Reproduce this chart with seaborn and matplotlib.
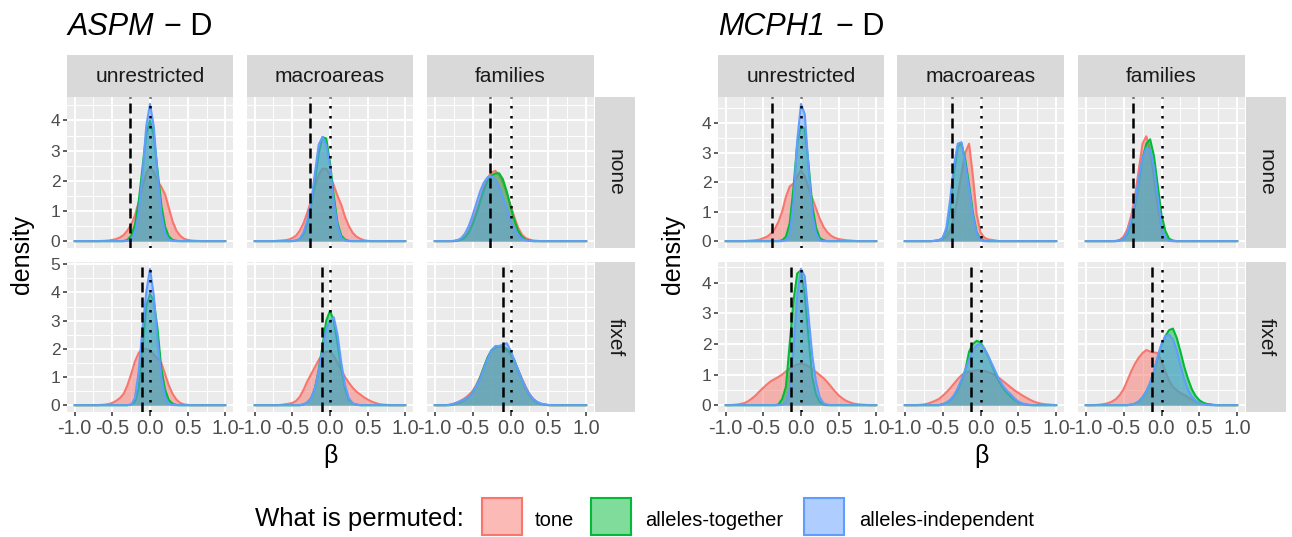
import numpy as np
import pandas as pd
import matplotlib
matplotlib.use("Agg")
import matplotlib.pyplot as plt
import seaborn as sns
from matplotlib.patches import Rectangle
from matplotlib.colors import to_rgba
from matplotlib.ticker import FixedLocator, FuncFormatter

# ---------------------------------------------------------------- data
BETA = np.round(np.linspace(-1.0, 1.0, 41), 2)          # density evaluation grid
PERMUTED = ["tone", "alleles-together", "alleles-independent"]
RESTRICTIONS = ["unrestricted", "macroareas", "families"]
CONTROLS = ["none", "fixef"]
X_TICKS = [-1.0, -0.5, 0.0, 0.5, 1.0]
X_TICK_LABELS = ["-1.0", "-0.5", "0.0", "0.5", "1.0"]
OBSERVED_ASPM = [-0.27, -0.10]      # dashed line, rows none / fixef
OBSERVED_MCPH1 = [-0.38, -0.13]

# ASPM, control = none
ASPM_NONE_UNR_TONE = [0, 0, 0, 0, 0, 0, 0, 0.005, 0.01, 0.02, 0.04, 0.07, 0.12, 0.2, 0.35, 0.55,
                      0.85, 1.3, 1.8, 2.25, 2.45, 2.3, 2.0, 1.8, 1.55, 1.1, 0.65, 0.35, 0.18, 0.08, 0.04, 0.02,
                      0.01, 0.005, 0, 0, 0, 0, 0, 0, 0]
ASPM_NONE_UNR_TOG = [0, 0, 0, 0, 0, 0, 0, 0, 0, 0, 0, 0, 0, 0, 0.04, 0.18,
                     0.54, 1.3, 2.43, 3.53, 4.0, 3.5, 2.35, 1.2, 0.48, 0.15, 0.04, 0.01, 0, 0, 0, 0,
                     0, 0, 0, 0, 0, 0, 0, 0, 0]
ASPM_NONE_UNR_IND = [0, 0, 0, 0, 0, 0, 0, 0, 0, 0, 0, 0, 0, 0, 0.01, 0.05,
                     0.25, 0.95, 2.2, 3.8, 4.55, 3.8, 2.2, 0.9, 0.25, 0.05, 0.01, 0, 0, 0, 0, 0,
                     0, 0, 0, 0, 0, 0, 0, 0, 0]
ASPM_NONE_MAC_TONE = [0, 0, 0, 0, 0, 0, 0.01, 0.02, 0.03, 0.05, 0.1, 0.18, 0.35, 0.6, 0.95, 1.35,
                      1.8, 2.2, 2.4, 2.4, 2.2, 1.85, 1.5, 1.2, 0.8, 0.5, 0.28, 0.15, 0.08, 0.03, 0.01, 0,
                      0, 0, 0, 0, 0, 0, 0, 0, 0]
ASPM_NONE_MAC_TOG = [0, 0, 0, 0, 0, 0, 0, 0, 0, 0, 0, 0.02, 0.07, 0.25, 0.6, 1.2,
                     2.0, 2.9, 3.45, 3.4, 2.6, 1.5, 0.6, 0.18, 0.05, 0.01, 0, 0, 0, 0, 0, 0,
                     0, 0, 0, 0, 0, 0, 0, 0, 0]
ASPM_NONE_MAC_IND = [0, 0, 0, 0, 0, 0, 0, 0, 0, 0, 0, 0.02, 0.08, 0.3, 0.7, 1.3,
                     2.25, 3.2, 3.45, 3.2, 2.5, 1.3, 0.5, 0.1, 0.02, 0, 0, 0, 0, 0, 0, 0,
                     0, 0, 0, 0, 0, 0, 0, 0, 0]
ASPM_NONE_FAM_TONE = [0, 0, 0, 0, 0, 0, 0.02, 0.06, 0.15, 0.35, 0.65, 1.0, 1.4, 1.8, 2.1, 2.28,
                      2.33, 2.2, 1.95, 1.6, 1.2, 0.8, 0.45, 0.22, 0.1, 0.05, 0.02, 0.01, 0, 0, 0, 0,
                      0, 0, 0, 0, 0, 0, 0, 0, 0]
ASPM_NONE_FAM_TOG = [0, 0, 0, 0, 0, 0, 0.02, 0.05, 0.12, 0.28, 0.55, 0.9, 1.3, 1.7, 2.0, 2.18,
                     2.24, 2.25, 2.05, 1.65, 1.15, 0.7, 0.35, 0.14, 0.05, 0.02, 0, 0, 0, 0, 0, 0,
                     0, 0, 0, 0, 0, 0, 0, 0, 0]
ASPM_NONE_FAM_IND = [0, 0, 0, 0, 0, 0.01, 0.03, 0.1, 0.25, 0.5, 0.85, 1.25, 1.65, 1.95, 2.12, 2.15,
                     2.05, 1.8, 1.45, 1.1, 0.7, 0.4, 0.2, 0.08, 0.03, 0.01, 0, 0, 0, 0, 0, 0,
                     0, 0, 0, 0, 0, 0, 0, 0, 0]
# ASPM, control = fixef
ASPM_FIX_UNR_TONE = [0, 0, 0, 0, 0, 0, 0, 0.01, 0.02, 0.04, 0.08, 0.15, 0.25, 0.4, 0.7, 1.1,
                     1.55, 1.85, 2.0, 2.0, 1.95, 1.8, 1.65, 1.5, 1.1, 0.7, 0.4, 0.2, 0.08, 0.03, 0.01, 0,
                     0, 0, 0, 0, 0, 0, 0, 0, 0]
ASPM_FIX_UNR_TOG = [0, 0, 0, 0, 0, 0, 0, 0, 0, 0, 0, 0, 0, 0, 0, 0.02,
                    0.12, 0.6, 2.0, 3.5, 3.95, 3.7, 2.7, 1.3, 0.55, 0.18, 0.05, 0.01, 0, 0, 0, 0,
                    0, 0, 0, 0, 0, 0, 0, 0, 0]
ASPM_FIX_UNR_IND = [0, 0, 0, 0, 0, 0, 0, 0, 0, 0, 0, 0, 0, 0, 0, 0.02,
                    0.25, 1.2, 2.7, 4.0, 4.84, 3.9, 2.3, 1.0, 0.3, 0.05, 0.01, 0, 0, 0, 0, 0,
                    0, 0, 0, 0, 0, 0, 0, 0, 0]
ASPM_FIX_MAC_TONE = [0, 0, 0, 0, 0, 0, 0, 0.01, 0.03, 0.05, 0.08, 0.15, 0.3, 0.55, 0.85, 1.1,
                     1.35, 1.6, 1.8, 1.9, 1.9, 1.75, 1.5, 1.25, 1.0, 0.8, 0.62, 0.48, 0.38, 0.28, 0.2, 0.13,
                     0.08, 0.04, 0.02, 0.01, 0, 0, 0, 0, 0]
ASPM_FIX_MAC_TOG = [0, 0, 0, 0, 0, 0, 0, 0, 0, 0, 0, 0, 0, 0.03, 0.1, 0.25,
                    0.6, 1.25, 2.1, 3.0, 3.35, 3.0, 2.2, 1.3, 0.6, 0.2, 0.06, 0.02, 0, 0, 0, 0,
                    0, 0, 0, 0, 0, 0, 0, 0, 0]
ASPM_FIX_MAC_IND = [0, 0, 0, 0, 0, 0, 0, 0, 0, 0, 0, 0, 0, 0.03, 0.1, 0.25,
                    0.6, 1.2, 2.0, 2.7, 3.0, 3.12, 2.5, 1.5, 0.7, 0.25, 0.07, 0.02, 0, 0, 0, 0,
                    0, 0, 0, 0, 0, 0, 0, 0, 0]
ASPM_FIX_FAM_TONE = [0, 0, 0, 0, 0.02, 0.05, 0.1, 0.17, 0.25, 0.36, 0.5, 0.72, 1.0, 1.35, 1.7, 1.95,
                     2.05, 2.08, 2.05, 1.95, 1.8, 1.55, 1.25, 0.95, 0.65, 0.4, 0.22, 0.1, 0.04, 0.02, 0, 0,
                     0, 0, 0, 0, 0, 0, 0, 0, 0]
ASPM_FIX_FAM_TOG = [0, 0, 0, 0, 0, 0.03, 0.07, 0.12, 0.2, 0.3, 0.45, 0.68, 0.98, 1.35, 1.7, 1.95,
                    2.05, 2.1, 2.08, 2.0, 1.85, 1.6, 1.25, 0.9, 0.6, 0.36, 0.2, 0.1, 0.05, 0.02, 0, 0,
                    0, 0, 0, 0, 0, 0, 0, 0, 0]
ASPM_FIX_FAM_IND = [0, 0, 0, 0, 0.01, 0.05, 0.1, 0.15, 0.21, 0.3, 0.45, 0.68, 0.94, 1.3, 1.65, 1.95,
                    2.1, 2.1, 2.15, 2.2, 1.95, 1.6, 1.25, 0.9, 0.62, 0.38, 0.22, 0.12, 0.06, 0.03, 0.01, 0,
                    0, 0, 0, 0, 0, 0, 0, 0, 0]

# MCPH1, control = none
MCPH1_NONE_UNR_TONE = [0, 0, 0, 0, 0, 0, 0.01, 0.02, 0.03, 0.05, 0.1, 0.15, 0.25, 0.4, 0.65, 1.0,
                       1.5, 1.85, 1.95, 2.2, 2.4, 2.2, 1.8, 1.45, 1.1, 0.75, 0.48, 0.3, 0.18, 0.11, 0.07, 0.05,
                       0.03, 0.02, 0.01, 0, 0, 0, 0, 0, 0]
MCPH1_NONE_UNR_TOG = [0, 0, 0, 0, 0, 0, 0, 0, 0, 0, 0, 0, 0, 0, 0, 0.03,
                      0.15, 0.6, 1.8, 3.3, 3.9, 3.8, 2.6, 1.2, 0.45, 0.1, 0.03, 0, 0, 0, 0, 0,
                      0, 0, 0, 0, 0, 0, 0, 0, 0]
MCPH1_NONE_UNR_IND = [0, 0, 0, 0, 0, 0, 0, 0, 0, 0, 0, 0, 0, 0, 0, 0,
                      0.03, 0.2, 1.3, 3.4, 4.65, 4.3, 2.5, 0.9, 0.25, 0.02, 0, 0, 0, 0, 0, 0,
                      0, 0, 0, 0, 0, 0, 0, 0, 0]
MCPH1_NONE_MAC_TONE = [0, 0, 0, 0, 0, 0, 0, 0, 0.01, 0.03, 0.07, 0.15, 0.36, 0.8, 1.55, 2.3,
                       3.0, 3.3, 2.2, 0.9, 0.3, 0.12, 0.06, 0.04, 0.02, 0, 0, 0, 0, 0, 0, 0,
                       0, 0, 0, 0, 0, 0, 0, 0, 0]
MCPH1_NONE_MAC_TOG = [0, 0, 0, 0, 0, 0, 0, 0, 0.01, 0.03, 0.1, 0.35, 1.15, 2.3, 3.2, 3.3,
                      2.75, 1.9, 0.95, 0.3, 0.06, 0.01, 0, 0, 0, 0, 0, 0, 0, 0, 0, 0,
                      0, 0, 0, 0, 0, 0, 0, 0, 0]
MCPH1_NONE_MAC_IND = [0, 0, 0, 0, 0, 0, 0, 0, 0.01, 0.03, 0.1, 0.45, 1.4, 2.55, 3.3, 3.35,
                      2.6, 1.75, 0.85, 0.25, 0.05, 0, 0, 0, 0, 0, 0, 0, 0, 0, 0, 0,
                      0, 0, 0, 0, 0, 0, 0, 0, 0]
MCPH1_NONE_FAM_TONE = [0, 0, 0, 0, 0, 0, 0, 0, 0.01, 0.04, 0.15, 0.4, 0.85, 1.5, 2.4, 3.3,
                       3.55, 3.1, 2.2, 1.2, 0.45, 0.12, 0.03, 0, 0, 0, 0, 0, 0, 0, 0, 0,
                       0, 0, 0, 0, 0, 0, 0, 0, 0]
MCPH1_NONE_FAM_TOG = [0, 0, 0, 0, 0, 0, 0, 0, 0, 0.02, 0.08, 0.25, 0.6, 1.2, 2.0, 2.8,
                      3.3, 3.45, 2.9, 1.9, 0.9, 0.35, 0.08, 0.02, 0, 0, 0, 0, 0, 0, 0, 0,
                      0, 0, 0, 0, 0, 0, 0, 0, 0]
MCPH1_NONE_FAM_IND = [0, 0, 0, 0, 0, 0, 0, 0, 0, 0.02, 0.08, 0.3, 0.7, 1.3, 2.1, 2.8,
                      3.15, 3.1, 2.5, 1.5, 0.5, 0.1, 0.02, 0, 0, 0, 0, 0, 0, 0, 0, 0,
                      0, 0, 0, 0, 0, 0, 0, 0, 0]
# MCPH1, control = fixef
MCPH1_FIX_UNR_TONE = [0, 0, 0.01, 0.02, 0.04, 0.07, 0.13, 0.22, 0.32, 0.45, 0.57, 0.68, 0.78, 0.85, 0.92, 1.0,
                      1.1, 1.2, 1.28, 1.33, 1.35, 1.33, 1.27, 1.18, 1.08, 0.98, 0.88, 0.75, 0.6, 0.45, 0.32, 0.22,
                      0.14, 0.09, 0.05, 0.03, 0.02, 0.01, 0, 0, 0]
MCPH1_FIX_UNR_TOG = [0, 0, 0, 0, 0, 0, 0, 0, 0, 0, 0, 0, 0, 0, 0.02, 0.2,
                     0.6, 2.0, 3.4, 4.3, 4.4, 3.6, 2.2, 0.9, 0.35, 0.1, 0.02, 0, 0, 0, 0, 0,
                     0, 0, 0, 0, 0, 0, 0, 0, 0]
MCPH1_FIX_UNR_IND = [0, 0, 0, 0, 0, 0, 0, 0, 0, 0, 0, 0, 0, 0, 0, 0.02,
                     0.1, 0.5, 1.8, 3.6, 4.45, 4.2, 2.9, 1.6, 0.75, 0.25, 0.06, 0.02, 0, 0, 0, 0,
                     0, 0, 0, 0, 0, 0, 0, 0, 0]
MCPH1_FIX_MAC_TONE = [0, 0, 0, 0, 0.01, 0.02, 0.05, 0.09, 0.14, 0.2, 0.3, 0.42, 0.55, 0.7, 0.85, 0.98,
                      1.06, 1.1, 1.12, 1.14, 1.14, 1.12, 1.08, 1.03, 0.96, 0.88, 0.78, 0.68, 0.58, 0.48, 0.4, 0.32,
                      0.25, 0.18, 0.12, 0.08, 0.05, 0.03, 0.02, 0.01, 0]
MCPH1_FIX_MAC_TOG = [0, 0, 0, 0, 0, 0, 0, 0, 0, 0, 0.03, 0.08, 0.16, 0.3, 0.5, 0.8,
                     1.15, 1.75, 2.0, 2.1, 2.05, 1.85, 1.6, 1.3, 1.0, 0.75, 0.55, 0.4, 0.28, 0.17, 0.09, 0.04,
                     0.02, 0, 0, 0, 0, 0, 0, 0, 0]
MCPH1_FIX_MAC_IND = [0, 0, 0, 0, 0, 0, 0, 0, 0, 0, 0.03, 0.08, 0.17, 0.32, 0.55, 0.85,
                     1.15, 1.5, 1.8, 1.95, 2.0, 1.85, 1.62, 1.35, 1.08, 0.82, 0.62, 0.47, 0.35, 0.22, 0.12, 0.06,
                     0.03, 0.01, 0, 0, 0, 0, 0, 0, 0]
MCPH1_FIX_FAM_TONE = [0, 0, 0, 0.01, 0.02, 0.04, 0.07, 0.12, 0.2, 0.33, 0.52, 0.8, 1.1, 1.35, 1.55, 1.7,
                      1.8, 1.75, 1.72, 1.7, 1.45, 1.1, 0.8, 0.6, 0.48, 0.4, 0.33, 0.26, 0.18, 0.12, 0.08, 0.05,
                      0.03, 0.02, 0.01, 0, 0, 0, 0, 0, 0]
MCPH1_FIX_FAM_TOG = [0, 0, 0, 0, 0, 0, 0, 0, 0, 0, 0, 0, 0.02, 0.05, 0.12, 0.25,
                     0.45, 0.72, 1.1, 1.55, 1.95, 2.25, 2.45, 2.5, 2.2, 1.75, 1.25, 0.85, 0.52, 0.3, 0.16, 0.08,
                     0.04, 0.02, 0, 0, 0, 0, 0, 0, 0]
MCPH1_FIX_FAM_IND = [0, 0, 0, 0, 0, 0, 0, 0, 0, 0, 0, 0, 0.02, 0.05, 0.12, 0.25,
                     0.45, 0.72, 1.1, 1.6, 2.0, 2.25, 2.3, 2.15, 1.8, 1.3, 0.85, 0.5, 0.28, 0.14, 0.07, 0.03,
                     0.01, 0, 0, 0, 0, 0, 0, 0, 0]

ASPM_CURVES = {
    ("none", "unrestricted"): [ASPM_NONE_UNR_TONE, ASPM_NONE_UNR_TOG, ASPM_NONE_UNR_IND],
    ("none", "macroareas"): [ASPM_NONE_MAC_TONE, ASPM_NONE_MAC_TOG, ASPM_NONE_MAC_IND],
    ("none", "families"): [ASPM_NONE_FAM_TONE, ASPM_NONE_FAM_TOG, ASPM_NONE_FAM_IND],
    ("fixef", "unrestricted"): [ASPM_FIX_UNR_TONE, ASPM_FIX_UNR_TOG, ASPM_FIX_UNR_IND],
    ("fixef", "macroareas"): [ASPM_FIX_MAC_TONE, ASPM_FIX_MAC_TOG, ASPM_FIX_MAC_IND],
    ("fixef", "families"): [ASPM_FIX_FAM_TONE, ASPM_FIX_FAM_TOG, ASPM_FIX_FAM_IND],
}
MCPH1_CURVES = {
    ("none", "unrestricted"): [MCPH1_NONE_UNR_TONE, MCPH1_NONE_UNR_TOG, MCPH1_NONE_UNR_IND],
    ("none", "macroareas"): [MCPH1_NONE_MAC_TONE, MCPH1_NONE_MAC_TOG, MCPH1_NONE_MAC_IND],
    ("none", "families"): [MCPH1_NONE_FAM_TONE, MCPH1_NONE_FAM_TOG, MCPH1_NONE_FAM_IND],
    ("fixef", "unrestricted"): [MCPH1_FIX_UNR_TONE, MCPH1_FIX_UNR_TOG, MCPH1_FIX_UNR_IND],
    ("fixef", "macroareas"): [MCPH1_FIX_MAC_TONE, MCPH1_FIX_MAC_TOG, MCPH1_FIX_MAC_IND],
    ("fixef", "families"): [MCPH1_FIX_FAM_TONE, MCPH1_FIX_FAM_TOG, MCPH1_FIX_FAM_IND],
}

COLORS = {"tone": "#F8766D", "alleles-together": "#00BA38", "alleles-independent": "#619CFF"}


def long_frame(curves):
    parts = []
    for (ctrl, restr), series in curves.items():
        for perm, dens in zip(PERMUTED, series):
            assert len(dens) == len(BETA), (ctrl, restr, perm, len(dens))
            parts.append(pd.DataFrame({"control": ctrl, "restriction": restr,
                                       "permuted": perm, "beta": BETA, "density": dens}))
    return pd.concat(parts, ignore_index=True)


# ---------------------------------------------------------------- style
sns.set_theme(style="darkgrid")
plt.rcParams["font.family"] = ["Liberation Sans", "DejaVu Sans"]

W, H = 1292, 537
fig = plt.figure(figsize=(W / 100, H / 100), dpi=100)
fig.patch.set_facecolor("white")


def box(x0, y0, x1, y1):
    return [x0 / W, 1 - y1 / H, (x1 - x0) / W, (y1 - y0) / H]


ROWS_PX = [(97, 248), (262, 412)]
STRIP_Y = (55, 97)
FONT_TICK_X = 14.3
FONT_TICK_Y = 12.5
FONT_STRIP = 15
FONT_AXIS = 18


def draw_chart(curves, observed, cols_px, strip_x, gene, title_x, ylab_x):
    df = long_frame(curves)
    for r, ctrl in enumerate(CONTROLS):
        row = df[df.control == ctrl]
        ymax = row.density.max()
        ylim = (-0.05 * ymax, 1.05 * ymax)
        y0, y1 = ROWS_PX[r]
        for c, restr in enumerate(RESTRICTIONS):
            x0, x1 = cols_px[c]
            ax = fig.add_axes(box(x0, y0, x1, y1))
            ax.set_facecolor("#EBEBEB")
            panel = row[row.restriction == restr]
            for k, perm in enumerate(PERMUTED):
                d = panel[panel.permuted == perm]
                ax.fill_between(d.beta, 0, d.density, color=COLORS[perm], alpha=0.5,
                                lw=0, zorder=2 + 2 * k)
                sns.lineplot(data=d, x="beta", y="density", color=COLORS[perm], lw=1.5,
                             ax=ax, zorder=3 + 2 * k, estimator=None, legend=False)
            ax.axvline(observed[r], color="black", lw=1.8, ls=(0, (4, 2)), zorder=10)
            ax.axvline(0.0, color="black", lw=1.8, ls=(0, (1, 3)), zorder=10)
            ax.set_xlim(-1.1, 1.1)
            ax.set_ylim(*ylim)
            ax.set_xlabel("")
            ax.set_ylabel("")
            ax.xaxis.set_major_locator(FixedLocator(X_TICKS))
            ax.xaxis.set_minor_locator(FixedLocator([-0.75, -0.25, 0.25, 0.75]))
            yt = list(range(0, int(np.floor(ylim[1])) + 1))
            ax.yaxis.set_major_locator(FixedLocator(yt))
            ax.yaxis.set_minor_locator(FixedLocator([v + 0.5 for v in range(-1, int(ylim[1]) + 1)]))
            ax.yaxis.set_major_formatter(FuncFormatter(lambda v, p: f"{v:.0f}"))
            ax.set_axisbelow(True)
            ax.grid(which="major", color="white", lw=1.4)
            ax.grid(which="minor", color="white", lw=0.7)
            for s in ax.spines.values():
                s.set_visible(False)
            ax.tick_params(which="minor", length=0)
            ax.tick_params(which="major", color="#333333", width=1.1, length=3.2,
                           labelcolor="#4D4D4D")
            if r == 1:
                ax.set_xticklabels(X_TICK_LABELS)
                ax.tick_params(axis="x", pad=1.5, labelsize=FONT_TICK_X, bottom=True)
            else:
                ax.tick_params(axis="x", length=0, labelbottom=False)
            if c == 0:
                ax.tick_params(axis="y", pad=1.5, labelsize=FONT_TICK_Y, left=True)
            else:
                ax.tick_params(axis="y", length=0, labelleft=False)
        # row strip on the right
        sax = fig.add_axes(box(strip_x[0], y0, strip_x[1], y1))
        sax.set_facecolor("#D9D9D9")
        sax.set_xticks([]); sax.set_yticks([])
        for s in sax.spines.values():
            s.set_visible(False)
        sax.text(0.5, 0.5, ctrl, rotation=-90, ha="center", va="center",
                 fontsize=FONT_STRIP, color="#1A1A1A", transform=sax.transAxes)
    # column strips
    for c, restr in enumerate(RESTRICTIONS):
        x0, x1 = cols_px[c]
        sax = fig.add_axes(box(x0, STRIP_Y[0], x1, STRIP_Y[1]))
        sax.set_facecolor("#D9D9D9")
        sax.set_xticks([]); sax.set_yticks([])
        for s in sax.spines.values():
            s.set_visible(False)
        sax.text(0.5, 0.5, restr, ha="center", va="center", fontsize=FONT_STRIP,
                 color="#1A1A1A", transform=sax.transAxes)
    # title
    t1 = fig.text(title_x / W, 1 - 35 / H, gene, style="italic", fontsize=22,
                  ha="left", va="baseline", color="black")
    fig.canvas.draw()
    bb = t1.get_window_extent()
    fig.text(bb.x1 / W + 11 / W, 1 - 35 / H, "\u2212 D", fontsize=22, ha="left",
             va="baseline", color="black")
    # axis titles
    fig.text(ylab_x / W, 1 - 254 / H, "density", rotation=90, ha="center", va="center",
             fontsize=FONT_AXIS, color="black")
    cx = (cols_px[0][0] + cols_px[-1][1]) / 2
    fig.text(cx / W, 1 - 456 / H, "\u03b2", ha="center", va="center",
             fontsize=FONT_AXIS, color="black")


draw_chart(ASPM_CURVES, OBSERVED_ASPM, [(67, 233), (247, 413), (427, 594)], (595, 635),
           "ASPM", 67, 22)
draw_chart(MCPH1_CURVES, OBSERVED_MCPH1, [(718, 884), (897, 1064), (1078, 1245)], (1246, 1286),
           "MCPH1", 718, 673)

# ---------------------------------------------------------------- legend
LEG_BASE = 526
fig.text(255 / W, 1 - LEG_BASE / H, "What is permuted:", fontsize=18.5, ha="left",
         va="baseline", color="black")
KEY_X = [482, 591, 804]
LABEL_X = [535, 645, 859]
for perm, kx, lx in zip(PERMUTED, KEY_X, LABEL_X):
    rect = Rectangle((kx / W, 1 - 535 / H), 40 / W, 37 / H, transform=fig.transFigure,
                     facecolor=to_rgba(COLORS[perm], 0.5), edgecolor=COLORS[perm], lw=1.5)
    fig.add_artist(rect)
    fig.text(lx / W, 1 - LEG_BASE / H, perm, fontsize=14.5, ha="left", va="baseline",
             color="black")

fig.savefig("out.png", dpi=100, facecolor="white")
